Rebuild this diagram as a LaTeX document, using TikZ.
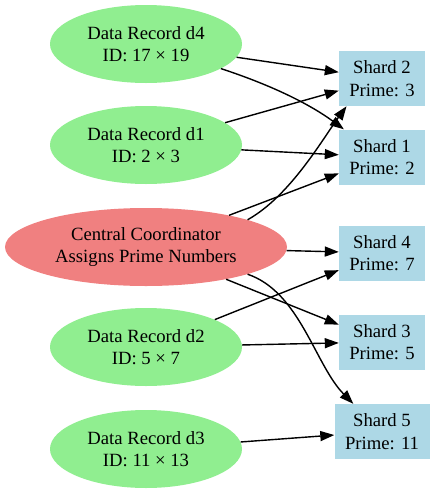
\documentclass[tikz,border=0pt]{standalone}
\usepackage{fontspec}
\setmainfont{Liberation Serif}
\usetikzlibrary{arrows.meta,shapes.geometric}
\definecolor{recgreen}{HTML}{90EE90}
\definecolor{hubred}{HTML}{F08080}
\definecolor{shardblue}{HTML}{ADD8E6}
\tikzset{
  record/.style ={ellipse, fill=recgreen, minimum width=192pt, minimum height=78pt,
                  inner sep=0pt, align=center, font=\fontsize{18.67}{22.4}\selectfont},
  hub/.style    ={record, fill=hubred, minimum width=282pt},
  shard/.style  ={rectangle, fill=shardblue, minimum width=86pt, minimum height=55pt,
                  inner sep=0pt, align=center, font=\fontsize{18.67}{22.4}\selectfont},
  link/.style   ={-{Triangle[length=14pt,width=10pt]}, line width=1.4pt},
}

\begin{document}
\begin{tikzpicture}[x=1pt,y=-1pt]
    \useasboundingbox (0,0) rectangle (434,493);
    % data records and the coordinator
    \node[record] (d4) at (146,44)  {Data Record d4\\ID: 17 × 19};
    \node[record] (d1) at (146,145) {Data Record d1\\ID: 2 × 3};
    \node[hub]    (cc) at (146,247) {Central Coordinator\\Assigns Prime Numbers};
    \node[record] (d2) at (146,347) {Data Record d2\\ID: 5 × 7};
    \node[record] (d3) at (146,449) {Data Record d3\\ID: 11 × 13};
    % shards
    \node[shard] (s2) at (382,78.5)  {Shard 2\\Prime: 3};
    \node[shard] (s1) at (382,157)   {Shard 1\\Prime: 2};
    \node[shard] (s4) at (382,253)   {Shard 4\\Prime: 7};
    \node[shard] (s3) at (382,342)   {Shard 3\\Prime: 5};
    \node[shard, minimum width=95pt] (s5) at (382,431.5) {Shard 5\\Prime: 11};
    % straight links
    \foreach \a/\b in {d4/s2,d1/s2,d1/s1,cc/s1,cc/s4,cc/s3,d2/s4,d2/s3,d3/s5}
        \draw[link] (\a) -- (\b);
    % curved links
    \draw[link] (d4) .. controls (280,88) and (315,108) .. (s1.144);
    \draw[link] (cc.15) .. controls (290,196) and (322,140) .. (s2.218);
    \draw[link] (cc.-15) .. controls (300,292) and (315,365) .. (s5.136);
\end{tikzpicture}
\end{document}
